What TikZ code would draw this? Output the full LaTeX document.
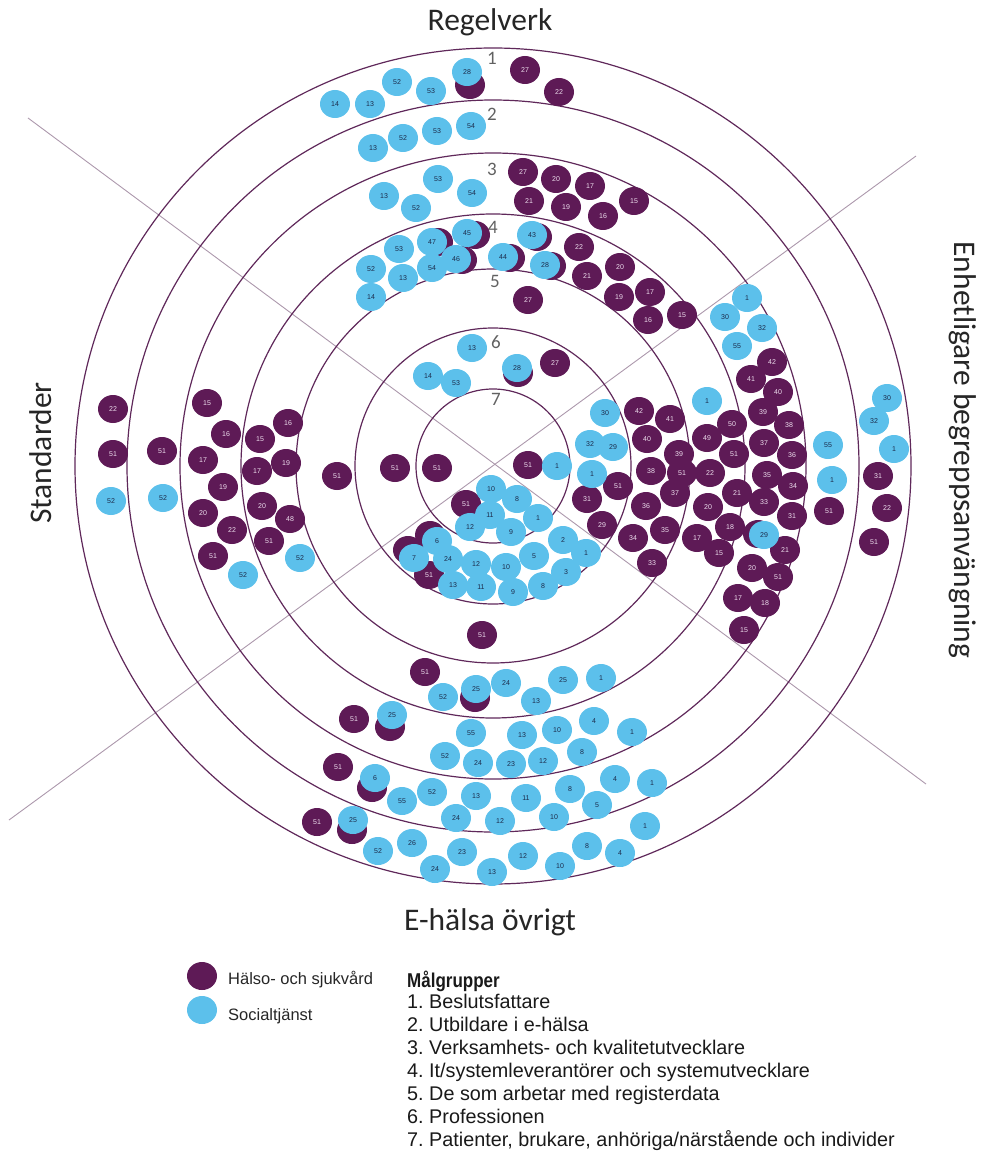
\documentclass[tikz,border=0pt]{standalone}
\usepackage{fontspec}
\setmainfont{Liberation Sans}
\newfontfamily\titlefont{Carlito}
\usetikzlibrary{shapes.geometric}
\frenchspacing

\definecolor{hpurple}{RGB}{94,26,86}
\definecolor{sblue}{RGB}{92,192,235}
\definecolor{ringline}{RGB}{95,40,90}
\definecolor{axisline}{RGB}{172,152,172}
\definecolor{hnum}{RGB}{238,222,238}
\definecolor{snum}{RGB}{28,42,74}

\tikzset{
  dotbase/.style={ellipse, minimum width=30pt, minimum height=28pt, inner sep=0pt,
    font=\fontsize{7}{8}\selectfont},
  hdot/.style={dotbase, fill=hpurple, text=hnum},
  sdot/.style={dotbase, fill=sblue, text=snum},
  ring/.style={draw=ringline, line width=1.2pt},
  axisstroke/.style={draw=axisline, line width=0.9pt},
  ringnum/.style={font=\titlefont\fontsize{19}{20}\selectfont, text=black!62},
  sidetitle/.style={font=\titlefont\fontsize{31.5}{34}\selectfont, text=black!85, inner sep=0pt},
  legtext/.style={font=\fontsize{16.5}{18}\selectfont, text=black!85, inner sep=0pt, anchor=base west},
  listtext/.style={font=\fontsize{19.8}{22}\selectfont, text=black!90, inner sep=0pt, anchor=base west},
}

\begin{document}
\begin{tikzpicture}[x=1pt,y=-1pt]
\useasboundingbox (0,0) rectangle (985,1158);

% centre of the rings
\coordinate (c) at (493,466);

% the two dividing lines
\coordinate (a1) at (28,118);
\coordinate (a2) at (926,784);
\coordinate (a3) at (916,156);
\coordinate (a4) at (9,820);
\draw[axisstroke] (a1) -- (a2);
\draw[axisstroke] (a3) -- (a4);

% target-group rings
\foreach \r in {77,138,197,252,313,366,418}
  \draw[ring] (c) circle[radius=\r pt];

% ring numbers
\foreach \x/\y/\t [count=\i] in {492/58/1,492/114/2,492/169/3,493/227/4,495/281/5,496/342/6,496/399/7}
  \node[ringnum] (n\i) at (\x,\y) {\t};

% area titles
\node[sidetitle] (tr) at (490,22) {Regelverk};
\node[sidetitle] (te) at (490,922) {E-hälsa övrigt};
\node[sidetitle, rotate=90] (ts) at (41,453) {Standarder};
\node[sidetitle, rotate=-90] (tb) at (963,450) {Enhetligare begreppsanvängning};

% health-care dots hidden under social-service dots
\foreach \x/\y [count=\i] in {470/85,475/235,438/242,462/260,510/258,537/237,551/266,518/373,
  758/534,430/535,408/550,475/698,390/727,372/788,352/830}
  \node[hdot] (u\i) at (\x,\y) {};

% health-care dots
\foreach \x/\y/\t [count=\i] in {
  525/70/27,559/92/22,
  523/172/27,556/179/20,590/186/17,634/201/15,529/201/21,566/207/19,603/216/16,
  579/247/22,587/276/21,620/267/20,619/297/19,650/292/17,648/320/16,682/315/15,
  528/300/27,555/363/27,
  337/476/51,395/468/51,437/468/51,528/465/51,466/504/51,429/575/51,
  639/411/42,670/419/41,647/439/40,679/454/39,651/471/38,675/493/37,646/506/36,
  665/530/35,633/538/34,652/563/33,682/473/51,618/486/51,587/499/31,602/525/29,
  707/438/49,732/424/50,734/454/51,710/473/22,737/493/21,708/507/20,730/527/18,
  697/538/17,719/553/15,
  772/362/42,751/379/41,778/392/40,763/412/39,789/425/38,764/443/37,792/455/36,
  767/475/35,793/486/34,764/502/33,792/516/31,785/550/21,752/568/20,778/577/51,
  738/598/17,765/603/18,744/630/15,
  829/511/51,878/476/31,887/508/22,874/542/51,
  113/409/22,113/454/51,162/451/51,
  207/403/15,226/434/16,203/460/17,223/487/19,203/513/20,232/530/22,213/556/51,
  260/439/15,288/423/16,257/471/17,286/463/19,262/506/20,290/519/48,269/541/51,
  482/635/51,425/672/51,354/719/51,338/767/51,317/822/51}
  \node[hdot] (h\i) at (\x,\y) {\t};

% social-service dots
\foreach \x/\y/\t [count=\i] in {
  335/104/14,370/104/13,397/82/52,431/91/53,467/72/28,
  373/148/13,403/138/52,437/131/53,471/126/54,
  438/179/53,384/196/13,416/208/52,472/193/54,
  467/233/45,432/242/47,399/249/53,456/259/46,432/268/54,371/269/52,403/278/13,
  371/297/14,503/257/44,532/235/43,545/265/28,
  472/348/13,428/376/14,456/383/53,517/368/28,
  747/298/1,725/317/30,762/328/32,737/346/55,
  605/413/30,590/444/32,613/447/29,592/474/1,557/466/1,707/401/1,764/535/29,
  828/445/55,832/480/1,887/398/30,874/421/32,894/449/1,
  111/501/52,163/498/52,243/575/52,300/558/52,
  491/489/10,517/499/8,490/515/11,470/527/12,511/532/9,538/518/1,
  563/540/2,586/553/1,534/556/5,566/572/3,543/586/8,513/592/9,506/567/10,
  476/564/12,481/587/11,453/585/13,448/559/24,437/541/6,414/558/7,
  443/697/52,476/689/25,506/683/24,536/701/13,563/680/25,601/678/1,
  392/715/25,471/733/55,522/735/13,557/730/10,594/721/4,632/732/1,
  445/756/52,478/763/24,511/764/23,543/761/12,582/752/8,
  375/778/6,402/801/55,432/792/52,476/796/13,526/798/11,570/789/8,615/779/4,652/783/1,
  597/805/5,554/817/10,500/821/12,456/818/24,353/820/25,645/826/1,
  378/851/52,412/843/26,462/852/23,435/869/24,492/872/13,523/856/12,560/866/10,
  587/846/8,620/853/4}
  \node[sdot] (s\i) at (\x,\y) {\t};

% legend: sectors
\node[hdot] (lh) at (202,976) {};
\node[sdot] (ls) at (202,1010) {};
\node[legtext] (lht) at (228,984) {Hälso- och sjukvård};
\node[legtext] (lst) at (228,1020) {Socialtjänst};

% legend: target groups
\node[listtext, font=\bfseries\fontsize{20}{22}\selectfont] (mg) at (407,987) {\scalebox{0.85}[1]{Målgrupper}};
\foreach \t [count=\i] in {1. Beslutsfattare,
  2. Utbildare i e-hälsa,
  3. Verksamhets- och kvalitetutvecklare,
  4. It/systemleverantörer och systemutvecklare,
  5. De som arbetar med registerdata,
  6. Professionen,
  {7. Patienter, brukare, anhöriga/närstående och individer}}
  \node[listtext] (g\i) at (407,{1008+23*(\i-1)}) {\t};
\end{tikzpicture}
\end{document}
